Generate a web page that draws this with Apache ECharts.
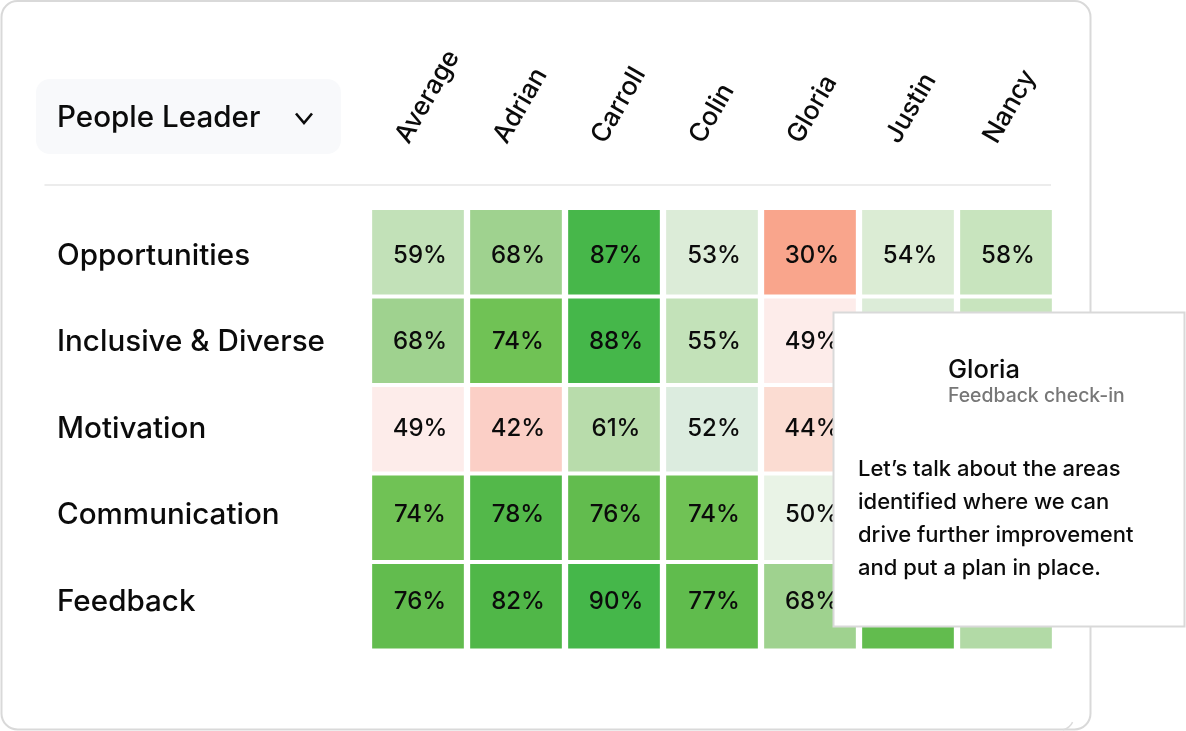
<!DOCTYPE html>
<html>
<head>
<meta charset="utf-8">
<style>
html,body{margin:0;padding:0;background:#fff;}
#chart{width:1186px;height:731px;}
</style>
<script src="https://cdn.jsdelivr.net/npm/echarts@6/dist/echarts.min.js"></script>
</head>
<body>
<div id="chart"></div>
<script>
var FONT = 'Inter';
var people = ['Average','Adrian','Carroll','Colin','Gloria','Justin','Nancy'];
var topics = ['Opportunities','Inclusive & Diverse','Motivation','Communication','Feedback'];
// one list per topic; null = cell fully hidden behind the popup
var opportunities = [59,68,87,53,30,54,58];
var inclusive = [68,74,88,55,49,53,58];
var motivation = [49,42,61,52,44,null,null];
var communication = [74,78,76,74,50,null,null];
var feedback = [76,82,90,77,68,76,63];
var rows = [opportunities,inclusive,motivation,communication,feedback];
// colour read per value
var colorValues = [30,42,44,49,50,52,53,54,55,58,59,61,63,68,74,76,77,78,82,87,88,90];
var colorList = ['#f9a58c','#fbcfc6','#fbdcd2','#fdecea','#e9f3e6','#dcecdf','#dcecd8','#dbecd4','#c3e2b9',
	'#c8e4be','#c2e1b8','#b8dcab','#b2daa6','#9fd28f','#70c255','#62bc4e','#60bc4d','#53b84a','#50b748','#47b74a','#45b74a','#45b74a'];

var cells = [];
rows.forEach(function(r,y){
	r.forEach(function(v,x){
		if(v!==null) cells.push([x,y,v]);
	});
});
var pieces = colorValues.map(function(v,i){
	return {value:v,color:colorList[i]};
});

function renderCell(params,api){
	var c = api.coord([api.value(0),api.value(1)]);
	var s = api.size([1,1]);
	var w = s[0]-6.3, h = s[1]-4;
	return {type:'rect',shape:{x:c[0]-w/2,y:c[1]-h/2,width:w,height:h},style:{fill:api.visual('color')}};
}
// the percent texts sit on a slightly tighter row pitch than the cells, so they get their own grid
function renderValue(params,api){
	var c = api.coord([api.value(0),api.value(1)]);
	return {type:'text',style:{x:c[0]+2,y:c[1],text:api.value(2)+'%',align:'center',verticalAlign:'middle',
		fill:'#0b0b0b',font:'500 24px '+FONT}};
}

var bodyLines = ['Let\u2019s talk about the areas','identified where we can','drive further improvement','and put a plan in place.'];
var popup = [
	{type:'rect',z:50,shape:{x:833.5,y:312.5,width:351,height:314},style:{fill:'#fff',stroke:'#d9d9d9',lineWidth:2}},
	{type:'text',z:51,style:{x:948,y:370,text:'Gloria',verticalAlign:'middle',fill:'#0b0b0b',font:'500 25.5px '+FONT}},
	{type:'text',z:51,style:{x:948,y:396,text:'Feedback check-in',verticalAlign:'middle',fill:'#777777',font:'500 19.4px '+FONT}}
];
bodyLines.forEach(function(t,i){
	popup.push({type:'text',z:51,style:{x:858,y:469+i*33,text:t,verticalAlign:'middle',fill:'#0b0b0b',font:'500 22px '+FONT}});
});

var chart = echarts.init(document.getElementById('chart'));
chart.setOption({
	animation:false,
	backgroundColor:'#fff',
	grid:[
		{left:369,top:208,width:686,height:442.5},
		{left:369,top:212.5,width:686,height:432.5},
		// the slanted names start left of their column centres
		{left:353,top:208,width:686,height:442.5}
	],
	xAxis:[
		{type:'category',data:people,gridIndex:0,show:false},
		{type:'category',data:people,gridIndex:1,show:false},
		{type:'category',position:'top',data:people,gridIndex:2,
			axisLine:{show:false},axisTick:{show:false},splitLine:{show:false},
			axisLabel:{rotate:-60,margin:67,interval:0,fontFamily:FONT,fontWeight:500,fontSize:26,color:'#0b0b0b'}}
	],
	yAxis:[
		{type:'category',inverse:true,data:topics,gridIndex:0,show:false},
		{type:'category',inverse:true,data:topics,gridIndex:1,
			axisLine:{show:false},axisTick:{show:false},splitLine:{show:false},
			axisLabel:{margin:312,align:'left',interval:0,fontFamily:FONT,fontWeight:500,fontSize:29.6,color:'#0b0b0b'}},
		{type:'category',inverse:true,data:topics,gridIndex:2,show:false}
	],
	visualMap:{show:false,type:'piecewise',dimension:2,seriesIndex:0,pieces:pieces},
	series:[
		{type:'custom',data:cells,renderItem:renderCell,encode:{x:0,y:1},xAxisIndex:0,yAxisIndex:0},
		{type:'custom',data:cells,renderItem:renderValue,encode:{x:0,y:1},xAxisIndex:1,yAxisIndex:1,z:3}
	],
	graphic:[
		{type:'rect',z:0,shape:{x:1.5,y:1,width:1089,height:728.5,r:16},style:{fill:'#fff',stroke:'#d9d9d9',lineWidth:2}},
		{type:'rect',z:0,shape:{x:36,y:79,width:305,height:75,r:14},style:{fill:'#f8f9fb'}},
		{type:'text',z:1,style:{x:57,y:118,text:'People Leader',verticalAlign:'middle',fill:'#0b0b0b',font:'500 29.6px '+FONT}},
		{type:'polyline',z:1,shape:{points:[[296,113.5],[304,123],[312,113.5]]},style:{fill:null,stroke:'#0b0b0b',lineWidth:2.6}},
		{type:'line',z:1,shape:{x1:44.5,y1:185,x2:1051,y2:185},style:{stroke:'#ececec',lineWidth:2}},
		{type:'arc',z:1,shape:{cx:1060,cy:716,r:14,startAngle:0.45,endAngle:1.35},style:{fill:null,stroke:'#dcdcdc',lineWidth:1.5}}
	].concat(popup)
});
</script>
</body>
</html>
